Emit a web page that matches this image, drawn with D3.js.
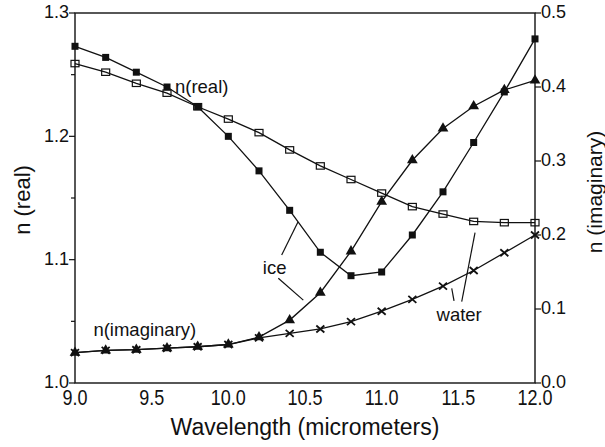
<!DOCTYPE html>
<html>
<head>
<meta charset="utf-8">
<script src="https://cdn.jsdelivr.net/npm/d3@7"></script>
<style>
  html, body { margin: 0; padding: 0; background: #fff; }
  svg { display: block; font-family: "Liberation Sans", Arial, Helvetica, sans-serif; }
</style>
</head>
<body>
<svg id="chart" width="605" height="447"></svg>
<script>
// Wavelength grid (micrometers)
const wavelength = [9.0, 9.2, 9.4, 9.6, 9.8, 10.0, 10.2, 10.4, 10.6, 10.8, 11.0, 11.2, 11.4, 11.6, 11.8, 12.0];

// Real refractive index (left axis)
const iceReal   = [1.273, 1.264, 1.252, 1.240, 1.224, 1.200, 1.172, 1.140, 1.106, 1.087, 1.090, 1.120, 1.155, 1.195, 1.236, 1.279];
const waterReal = [1.259, 1.252, 1.243, 1.235, 1.224, 1.214, 1.203, 1.189, 1.176, 1.165, 1.154, 1.143, 1.137, 1.131, 1.130, 1.130];

// Imaginary refractive index (right axis)
const iceImag   = [0.041, 0.044, 0.045, 0.047, 0.049, 0.052, 0.062, 0.085, 0.122, 0.178, 0.245, 0.301, 0.344, 0.374, 0.396, 0.409];
const waterImag = [0.041, 0.044, 0.045, 0.047, 0.049, 0.052, 0.061, 0.067, 0.073, 0.083, 0.097, 0.113, 0.131, 0.152, 0.176, 0.200];

// Tick labels
const xTicks = [9.0, 9.5, 10.0, 10.5, 11.0, 11.5, 12.0];
const yLeftTicks = [1.0, 1.1, 1.2, 1.3];
const yLeftMinor = [1.05, 1.15, 1.25];
const yRightTicks = [0.0, 0.1, 0.2, 0.3, 0.4, 0.5];

const svg = d3.select("#chart");
const L = 75, R = 535, T = 13, B = 383;

const x = d3.scaleLinear().domain([9, 12]).range([L, R]);
const yL = d3.scaleLinear().domain([1.0, 1.3]).range([B, T]);
const yR = d3.scaleLinear().domain([0, 0.5]).range([B, T]);

const ink = "#111";

// Frame
svg.append("rect")
  .attr("x", L).attr("y", T).attr("width", R - L).attr("height", B - T)
  .attr("fill", "none").attr("stroke", ink).attr("stroke-width", 1.4);

// Left axis ticks
const gl = svg.append("g");
gl.selectAll("line.maj").data(yLeftTicks).join("line")
  .attr("x1", L - 6).attr("x2", L).attr("y1", d => yL(d)).attr("y2", d => yL(d))
  .attr("stroke", ink).attr("stroke-width", 1.2);
gl.selectAll("line.min").data(yLeftMinor).join("line")
  .attr("x1", L - 4).attr("x2", L).attr("y1", d => yL(d)).attr("y2", d => yL(d))
  .attr("stroke", ink).attr("stroke-width", 1.2);
gl.selectAll("text").data(yLeftTicks).join("text")
  .attr("x", L - 6).attr("y", d => yL(d) - 1).attr("dy", "0.35em")
  .attr("text-anchor", "end").attr("font-size", 18).attr("fill", ink)
  .text(d => d.toFixed(1));

// Right axis ticks
const gr = svg.append("g");
gr.selectAll("line").data(yRightTicks).join("line")
  .attr("x1", R).attr("x2", R + 6).attr("y1", d => yR(d)).attr("y2", d => yR(d))
  .attr("stroke", ink).attr("stroke-width", 1.2);
gr.selectAll("text").data(yRightTicks).join("text")
  .attr("x", R + 6).attr("y", d => yR(d) - 1).attr("dy", "0.35em")
  .attr("text-anchor", "start").attr("font-size", 18).attr("fill", ink)
  .text(d => d.toFixed(1));

// Bottom tick labels (slightly tall lettering)
svg.append("g").selectAll("text").data(xTicks).join("text")
  .attr("transform", d => `translate(${x(d)},405) scale(1,1.22)`)
  .attr("text-anchor", "middle").attr("font-size", 18).attr("fill", ink)
  .text(d => d.toFixed(1));

// Axis titles
svg.append("text")
  .attr("x", (L + R) / 2).attr("y", 435)
  .attr("text-anchor", "middle").attr("font-size", 23).attr("fill", ink)
  .text("Wavelength (micrometers)");
svg.append("text")
  .attr("transform", "translate(22,200) rotate(-90)")
  .attr("text-anchor", "middle").attr("dominant-baseline", "central")
  .attr("font-size", 22).attr("fill", ink)
  .text("n (real)");
svg.append("text")
  .attr("transform", "translate(594,192) rotate(-90)")
  .attr("text-anchor", "middle").attr("dominant-baseline", "central")
  .attr("font-size", 21).attr("fill", ink)
  .text("n (imaginary)");

// Series definitions
const series = [
  { values: waterReal, y: yL, marker: "openSquare" },
  { values: iceReal,   y: yL, marker: "filledSquare" },
  { values: waterImag, y: yR, marker: "cross" },
  { values: iceImag,   y: yR, marker: "triangle" }
];

const line = (ys) => d3.line().x((d, i) => x(wavelength[i])).y(d => ys(d));

series.forEach(s => {
  svg.append("path")
    .datum(s.values)
    .attr("d", line(s.y))
    .attr("fill", "none").attr("stroke", ink).attr("stroke-width", 1.3);
});

const tri = d3.symbol().type(d3.symbolTriangle).size(50);

series.forEach(s => {
  const g = svg.append("g");
  const pts = s.values.map((v, i) => [x(wavelength[i]), s.y(v)]);
  if (s.marker === "filledSquare") {
    g.selectAll("rect").data(pts).join("rect")
      .attr("x", d => d[0] - 3.5).attr("y", d => d[1] - 3.5)
      .attr("width", 7).attr("height", 7).attr("fill", ink);
  } else if (s.marker === "openSquare") {
    g.selectAll("rect").data(pts).join("rect")
      .attr("x", d => d[0] - 4).attr("y", d => d[1] - 3.2)
      .attr("width", 8).attr("height", 6.4)
      .attr("fill", "none").attr("stroke", ink).attr("stroke-width", 1.2);
  } else if (s.marker === "triangle") {
    g.selectAll("path").data(pts).join("path")
      .attr("transform", d => `translate(${d[0]},${d[1]})`)
      .attr("d", tri).attr("fill", ink);
  } else if (s.marker === "cross") {
    g.selectAll("path").data(pts).join("path")
      .attr("d", d => `M${d[0]-4},${d[1]-3.5}L${d[0]+4},${d[1]+3.5}M${d[0]-4},${d[1]+3.5}L${d[0]+4},${d[1]-3.5}`)
      .attr("stroke", ink).attr("stroke-width", 1.8).attr("fill", "none");
  }
});

// Leader lines for the "ice" and "water" labels
const leaders = [
  { a: [10.348, yL(1.1038)], b: [10.454, yL(1.1306)] },
  { a: [10.326, yR(0.1415)], b: [10.489, yR(0.112)] },
  { a: [11.472, yR(0.111)],  b: [11.457, yR(0.128)] },
  { a: [11.522, yR(0.110)],  b: [11.609, yL(1.1219)] }
];
svg.append("g").selectAll("line").data(leaders).join("line")
  .attr("x1", d => x(d.a[0])).attr("y1", d => d.a[1])
  .attr("x2", d => x(d.b[0])).attr("y2", d => d.b[1])
  .attr("stroke", ink).attr("stroke-width", 1.2);

// Curve labels
const labels = [
  { text: "n(real)",      x: 9.652,  y: yL(1.2355) },
  { text: "n(imaginary)", x: 9.120,  y: yR(0.064) },
  { text: "ice",          x: 10.225, y: yL(1.088) },
  { text: "water",        x: 11.358, y: yR(0.084) }
];
svg.append("g").selectAll("text").data(labels).join("text")
  .attr("x", d => x(d.x)).attr("y", d => d.y)
  .attr("font-size", 18.5).attr("fill", ink)
  .text(d => d.text);
</script>
</body>
</html>
